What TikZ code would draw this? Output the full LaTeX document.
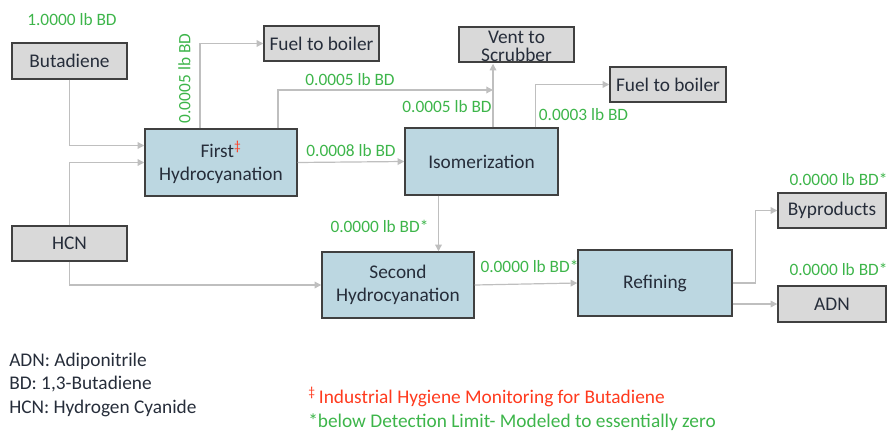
\documentclass[tikz,border=0pt]{standalone}
\usepackage{fontspec}
\setmainfont{Carlito}
\usetikzlibrary{arrows.meta,calc}

\definecolor{flow}{HTML}{BFBFBF}
\definecolor{edge}{HTML}{404040}
\definecolor{greybox}{HTML}{D9D9D9}
\definecolor{bluebox}{HTML}{BCD7E1}
\definecolor{amt}{HTML}{3DB54A}
\definecolor{warn}{HTML}{FF3A1E}
\definecolor{ink}{HTML}{262D3A}

\tikzset{
  unit/.style={draw=edge, line width=1.1pt, text=ink, align=center, inner sep=0pt,
    font=\fontsize{14.5}{17}\selectfont},
  endbox/.style={unit, fill=greybox},
  procbox/.style={unit, fill=bluebox},
  sz/.style 2 args={minimum width=#1*0.75pt, minimum height=#2*0.75pt},
  qty/.style={text=amt, inner sep=0pt, font=\fontsize{13}{15}\selectfont},
  stream/.style={draw=flow, line width=0.9pt, -{Triangle[length=5pt,width=5pt]}},
  legend/.style={inner sep=0pt, anchor=base west, text=ink, font=\fontsize{14.5}{17}\selectfont},
}

\begin{document}
\begin{tikzpicture}[x=0.75pt,y=-0.75pt]
\useasboundingbox (0,0) rectangle (887,431);

% feeds, products and process blocks
\node[endbox, sz={115}{36}] (but) at (69.5,61) {Butadiene};
\node[endbox, sz={115}{35}] (hcn) at (69.5,243.5) {HCN};
\node[endbox, sz={115}{35}] (fuelA) at (321.5,43.5) {Fuel to boiler};
\node[endbox, sz={115}{35}] (vent) at (516.5,44.5) {};
\node[unit, draw=none, font=\fontsize{14.5}{13.5}\selectfont] (venttxt) at (516.5,46) {Vent to\\Scrubber};
\node[endbox, sz={116}{35}] (fuelB) at (668,84.5) {Fuel to boiler};
\node[endbox, sz={108}{35}] (byp) at (832,210.5) {Byproducts};
\node[endbox, sz={108}{36}] (adn) at (832,304) {ADN};

\node[procbox, sz={152}{67}, font=\fontsize{14.5}{17.5}\selectfont] (first) at (221,162.5)
  {First\textsuperscript{\textcolor{warn}{‡}}\\Hydrocyanation};
\node[procbox, sz={153}{67}] (iso) at (481.5,161.5) {Isomerization};
\node[procbox, sz={152}{66}, font=\fontsize{14.5}{17.5}\selectfont] (second) at (398,285)
  {Second\\Hydrocyanation};
\node[procbox, sz={154}{66}] (ref) at (655,283) {Refining};

% junction points of the vent and fuel lines
\coordinate (vj) at (493,90);
\coordinate (fA) at ($(first.north)+(-21,0)$);
\coordinate (fB) at ($(first.north)+(57,0)$);
\coordinate (iB) at ($(iso.north)+(54,0)$);
\coordinate (iS) at ($(iso.south)+(-43,0)$);
\coordinate (rs) at ($(ref.east)+(23,0)$);

% streams
\draw[stream] (but.south) |- ($(first.west)+(0,-17)$);
\draw[stream] (hcn.north) |- (first.west);
\draw[stream] (hcn.south) |- (second.west);
\draw[stream] (fA) |- (fuelA.west);
\draw[stream] (fB) |- (vj);
\draw[stream] (iso.north -| vj) -- ($(vent.south -| vj)+(0,1)$);
\draw[stream] (iB) |- (fuelB.west);
\draw[stream] (first.east) -- (iso.west);
\draw[stream] (iS) -- (second.north -| iS);
\draw[stream] (second.east) -- (ref.west);
\draw[stream] (ref.east) -- (rs) |- (byp.west);
\draw[stream] (ref.east |- adn.west) -- (adn.west);

% butadiene amounts
\node[qty] (q0) at (72,20) {1.0000 lb BD};
\node[qty, rotate=90] (q1) at (184.5,78.5) {0.0005 lb BD};
\node[qty] (q2) at (350,80) {0.0005 lb BD};
\node[qty] (q3) at (447,107) {0.0005 lb BD};
\node[qty] (q4) at (583.5,114.5) {0.0003 lb BD};
\node[qty] (q5) at (351,151) {0.0008 lb BD};
\node[qty] (q6) at (379.5,226) {0.0000 lb BD*};
\node[qty] (q7) at (529.5,266) {0.0000 lb BD*};
\node[qty] (q8) at (838.5,179) {0.0000 lb BD*};
\node[qty] (q9) at (838.5,269) {0.0000 lb BD*};

% abbreviations and notes
\node[legend] (l1) at (9,366) {ADN: Adiponitrile};
\node[legend] (l2) at (9,389.5) {BD: 1,3-Butadiene};
\node[legend] (l3) at (9,413) {HCN: Hydrogen Cyanide};
\node[legend, text=warn] (n1) at (308,403) {\textsuperscript{‡}\,Industrial Hygiene Monitoring for Butadiene};
\node[legend, text=amt] (n2) at (308,427) {*below Detection Limit- Modeled to essentially zero};
\end{tikzpicture}
\end{document}
